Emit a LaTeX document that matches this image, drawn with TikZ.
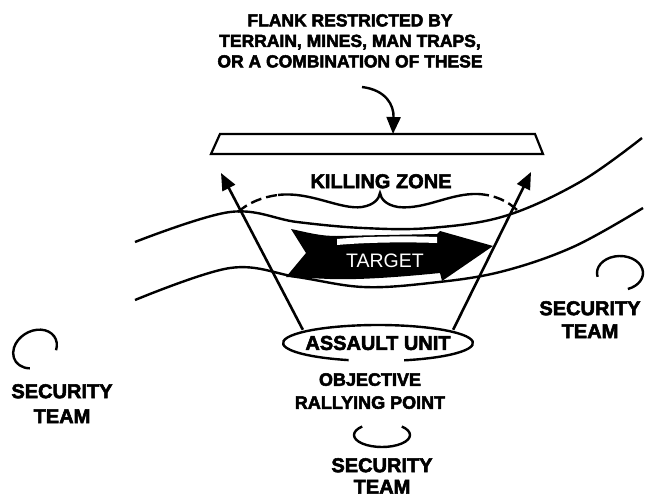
\documentclass[tikz,border=0pt]{standalone}
\usepackage{fontspec}
\setsansfont{Liberation Sans}
\newfontfamily\heavy{Liberation Sans}[UprightFont=* Bold,UprightFeatures={FakeBold=2.8}]
\usetikzlibrary{arrows.meta,positioning,shapes.geometric}

\begin{document}
\begin{tikzpicture}[
  x=1pt,y=1pt,
  line width=2.4pt,
  lbl/.style={font=\heavy\fontsize{20}{23}\selectfont,align=center,inner sep=0pt,anchor=north},
  ttl/.style={font=\heavy\fontsize{17.5}{20.5}\selectfont,align=center,inner sep=0pt,anchor=north},
  arr/.style={-{Triangle[length=17pt,width=14pt]},line width=2.6pt},
  river/.style={line width=2.4pt},
  brokenline/.style={dash pattern=on 11pt off 5pt}
]
\useasboundingbox (0,0) rectangle (646,-501);

% restricted flank
\node[ttl] (flank) at (350,-13) {FLANK RESTRICTED BY\\TERRAIN, MINES, MAN TRAPS,\\OR A COMBINATION OF THESE};
\coordinate (flankstart) at (362,-87);
\coordinate (bartop) at (393,-134);
\draw[line width=2.2pt] (211,-154) -- (220,-134) -- (535,-134) -- (543,-154) -- cycle;
\draw[arr,line width=2.4pt] (flankstart) .. controls (386,-90) and (394,-105) .. (bartop);

% terrain
\draw[river] plot[smooth,tension=0.6] coordinates {(135,-242) (230,-212) (297,-222) (363,-228) (430,-228) (505,-216) (580,-182) (642,-138)};
\draw[river] plot[smooth,tension=0.6] coordinates {(135,-300) (230,-268) (297,-277) (363,-287) (430,-283) (500,-272) (573,-247) (643,-208)};

% killing zone
\node[lbl] (killing) at (381,-173) {KILLING ZONE};
\draw[brokenline] (238,-212) .. controls (248,-203) and (262,-197) .. (278,-195);
\draw (278,-195) .. controls (310,-191) and (340,-210) .. (362,-207)
  .. controls (374,-205) and (379,-199) .. (380,-193)
  .. controls (381,-199) and (386,-205) .. (398,-207)
  .. controls (425,-210) and (450,-193) .. (478,-194);
\draw[brokenline] (478,-194) .. controls (495,-195) and (508,-201) .. (518,-211);

% target
\fill (291,-229) .. controls (310,-233) and (320,-236) .. (337,-236) -- (437,-234) -- (440,-231)
  -- (493,-246) -- (442,-281) -- (440,-273) .. controls (400,-277) and (360,-280) .. (330,-279)
  -- (286,-277) -- (306,-253) -- cycle;
\fill[white] (337,-239) .. controls (370,-236) and (410,-236) .. (437,-237) -- (437,-243)
  .. controls (410,-242) and (370,-242) .. (337,-245) -- cycle;
\node[font=\sffamily\fontsize{19.5}{22}\selectfont,text=white,inner sep=0pt] (target) at (385,-261) {TARGET};

% assault unit
\node[lbl,ellipse,anchor=center,minimum width=190pt,minimum height=36pt] (assault) at (378,-343) {ASSAULT UNIT};
\draw ([shift={(286:95 and 18)}]assault.center) arc[start angle=286,end angle=612,x radius=95,y radius=18];
\coordinate (tipL) at (221,-173);
\coordinate (tipR) at (531,-172);
\draw[arr] (assault.170) -- (tipL);
\draw[arr] (assault.10) -- (tipR);

\node[lbl,font=\heavy\fontsize{18}{23}\selectfont] (orp) at (370,-372) {OBJECTIVE\\RALLYING POINT};

% security teams
\draw ([shift={(135:28 and 12)}]382,-435) arc[start angle=135,end angle=405,x radius=28,y radius=12];
\node[lbl,font=\heavy\fontsize{20}{21.5}\selectfont] (secbot) at (382,-457) {SECURITY\\TEAM};

\draw[rotate around={30:(35,-349)}] ([shift={(-40:23 and 18)}]35,-349) arc[start angle=-40,end angle=232,x radius=23,y radius=18];
\node[lbl,font=\heavy\fontsize{20}{25}\selectfont] (secleft) at (62,-383) {SECURITY\\TEAM};

\draw ([shift={(193:23 and 17)}]620,-273) arc[start angle=193,end angle=-70,x radius=23,y radius=17];
\node[lbl] (secright) at (590,-300) {SECURITY\\TEAM};
\end{tikzpicture}
\end{document}
